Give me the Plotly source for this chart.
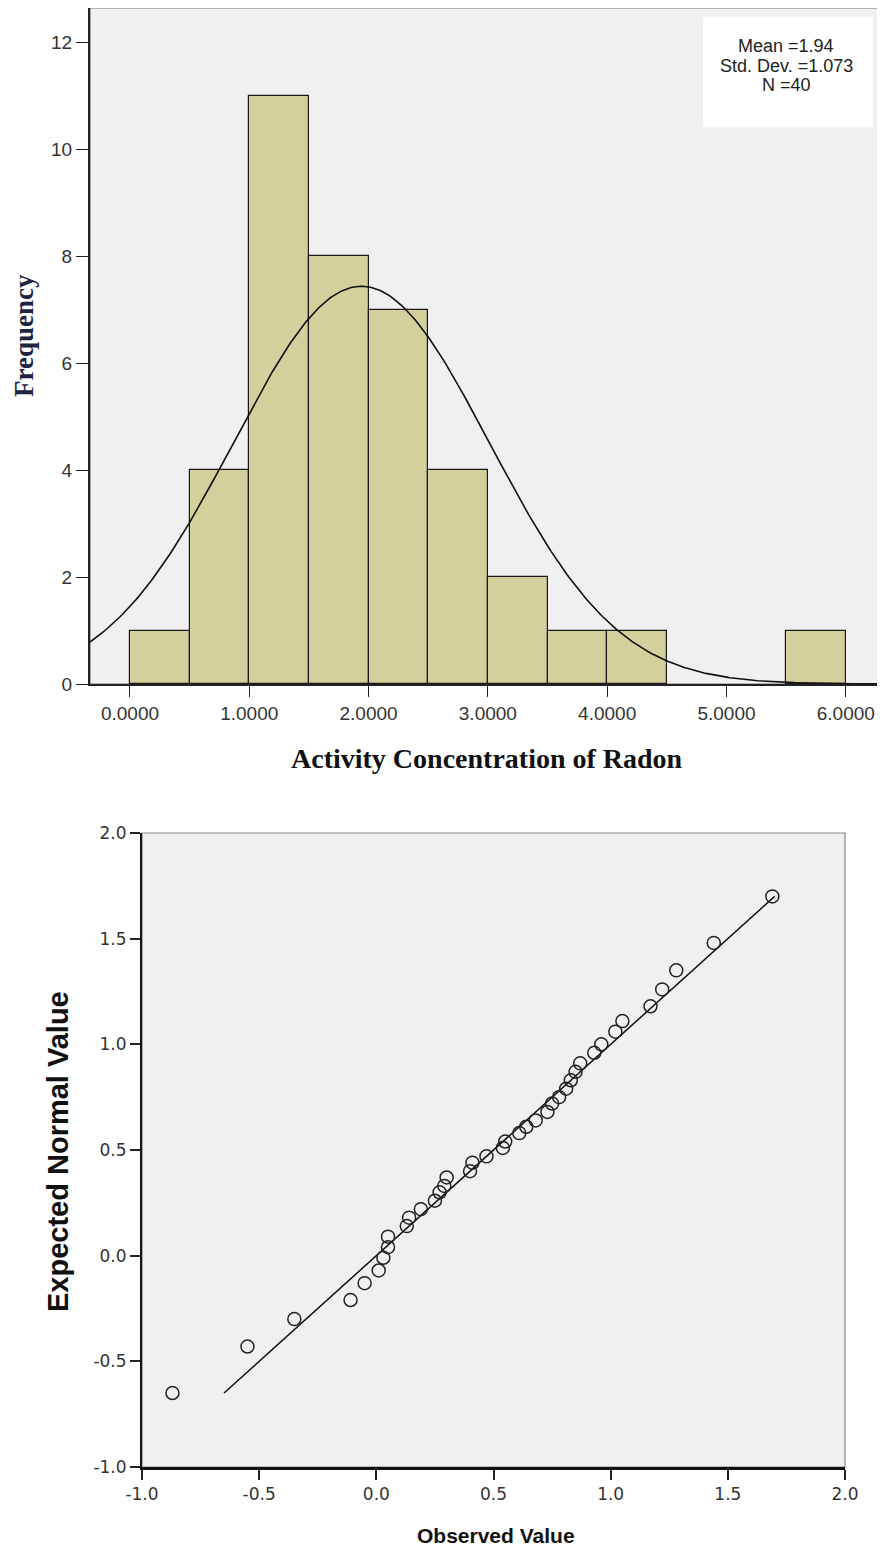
import numpy as np
import plotly.graph_objects as go

# ---------------- Histogram data ----------------
bin_left = [0.0, 0.5, 1.0, 1.5, 2.0, 2.5, 3.0, 3.5, 4.0, 5.5]
bin_counts = [1, 4, 11, 8, 7, 4, 2, 1, 1, 1]
bin_width = 0.5
hist_mean = 1.94
hist_sd = 1.073
hist_n = 40
hist_xticks = [0, 1, 2, 3, 4, 5, 6]
hist_xticklabels = ["0.0000", "1.0000", "2.0000", "3.0000", "4.0000", "5.0000", "6.0000"]
hist_yticks = [0, 2, 4, 6, 8, 10, 12]

# ---------------- Q-Q plot data ----------------
observed = [-0.87, -0.55, -0.35, -0.11, -0.05, 0.01, 0.03, 0.05, 0.05, 0.13,
            0.14, 0.19, 0.25, 0.27, 0.29, 0.30, 0.40, 0.41, 0.47, 0.54,
            0.55, 0.61, 0.64, 0.68, 0.73, 0.75, 0.78, 0.81, 0.83, 0.85,
            0.87, 0.93, 0.96, 1.02, 1.05, 1.17, 1.22, 1.28, 1.44, 1.69]
expected = [-0.65, -0.43, -0.30, -0.21, -0.13, -0.07, -0.01, 0.04, 0.09, 0.14,
            0.18, 0.22, 0.26, 0.30, 0.33, 0.37, 0.40, 0.44, 0.47, 0.51,
            0.54, 0.58, 0.61, 0.64, 0.68, 0.72, 0.75, 0.79, 0.83, 0.87,
            0.91, 0.96, 1.00, 1.06, 1.11, 1.18, 1.26, 1.35, 1.48, 1.70]
qq_ticks = [-1.0, -0.5, 0.0, 0.5, 1.0, 1.5, 2.0]
qq_ticklabels = ["-1.0", "-0.5", "0.0", "0.5", "1.0", "1.5", "2.0"]

# page body has an 8px margin
OFF = 8
W, H = 885 - OFF, 1557 - OFF
def px(xp): return (xp - OFF) / W
def py(yp): return 1 - (yp - OFF) / H

fig = go.Figure()

# Histogram bars
centers = [b + bin_width / 2 for b in bin_left]
fig.add_trace(go.Bar(x=centers, y=bin_counts, width=bin_width,
                     marker=dict(color="#D4D09C", line=dict(color="#1a1a1a", width=1.2)),
                     xaxis="x", yaxis="y", showlegend=False, hoverinfo="x+y"))

# Normal curve
x0r, x1r = -0.335, 6.312
xc = np.linspace(x0r, x1r, 400)
yc = hist_n * bin_width / (hist_sd * np.sqrt(2 * np.pi)) * np.exp(-0.5 * ((xc - hist_mean) / hist_sd) ** 2)
fig.add_trace(go.Scatter(x=xc, y=yc, mode="lines", line=dict(color="#111", width=1.6),
                         xaxis="x", yaxis="y", showlegend=False, hoverinfo="skip"))

# Q-Q reference line
lo, hi = min(expected), max(expected)
fig.add_trace(go.Scatter(x=[lo, hi], y=[lo, hi], mode="lines",
                         line=dict(color="#111", width=1.5),
                         xaxis="x2", yaxis="y2", showlegend=False, hoverinfo="skip"))
# Q-Q points
fig.add_trace(go.Scatter(x=observed, y=expected, mode="markers",
                         marker=dict(symbol="circle-open", size=13, color="#222",
                                     line=dict(width=1.5, color="#222")),
                         xaxis="x2", yaxis="y2", showlegend=False))

tickfont_top = dict(family="Liberation Sans, Arial, sans-serif", size=19, color="#333")
tickfont_bot = dict(family="DejaVu Sans, Arial, sans-serif", size=17, color="#333")

fig.update_layout(
    width=W, height=H,
    margin=dict(l=0, r=0, t=0, b=0, autoexpand=False),
    paper_bgcolor="white",
    plot_bgcolor="#F0F0F0",
    bargap=0,
    xaxis=dict(domain=[px(90), px(883)], range=[x0r, x1r], anchor="y",
               tickvals=hist_xticks, ticktext=hist_xticklabels, automargin=False,
               ticks="outside", ticklen=11, tickwidth=1.3, tickcolor="#222",
               showline=True, linecolor="#222", linewidth=2, showgrid=False,
               zeroline=False, tickfont=tickfont_top),
    yaxis=dict(domain=[py(684), py(8)], range=[0, 12.64], anchor="x", automargin=False,
               tickvals=hist_yticks, ticks="outside", ticklen=12, tickwidth=1.3,
               tickcolor="#222", showline=True, linecolor="#222", linewidth=2,
               showgrid=False, zeroline=False, tickfont=tickfont_top),
    xaxis2=dict(domain=[px(142), px(845)], range=[-1.0, 2.0], anchor="y2", automargin=False,
                tickvals=qq_ticks, ticktext=qq_ticklabels,
                ticks="outside", ticklen=10, tickwidth=1.5, tickcolor="#222",
                showline=True, linecolor="#111", linewidth=3, showgrid=False,
                zeroline=False, tickfont=tickfont_bot),
    yaxis2=dict(domain=[py(1467), py(833)], range=[-1.0, 2.0], anchor="x2", automargin=False,
                tickvals=qq_ticks, ticktext=qq_ticklabels,
                ticks="outside", ticklen=10, tickwidth=1.5, tickcolor="#222",
                showline=True, linecolor="#111", linewidth=2, showgrid=False,
                zeroline=False, tickfont=tickfont_bot),
)

# Frames (top / right borders)
fig.add_shape(type="rect", xref="x domain", yref="y domain", x0=0, x1=1, y0=0, y1=1,
              line=dict(color="#777", width=1.2), layer="below")
fig.add_shape(type="rect", xref="x2 domain", yref="y2 domain", x0=0, x1=1, y0=0, y1=1,
              line=dict(color="#888", width=1.2), layer="below")

# Stats box
fig.add_shape(type="rect", xref="paper", yref="paper",
              x0=px(703), x1=px(873), y0=py(127), y1=py(17),
              fillcolor="white", line=dict(width=0), layer="above")
stats_lines = [f"Mean ={hist_mean:.2f}", f"Std. Dev. ={hist_sd:.3f}", f"N ={hist_n}"]
for i, t in enumerate(stats_lines):
    fig.add_annotation(xref="paper", yref="paper", x=px(786), y=py(46 + 19.5 * i),
                       text=t, showarrow=False, xanchor="center", yanchor="middle",
                       font=dict(family="Liberation Sans, Arial, sans-serif", size=18, color="#222"))

# Axis titles
fig.add_annotation(xref="paper", yref="paper", x=px(24), y=py(336),
                   text="<b>Frequency</b>", textangle=-90, showarrow=False,
                   xanchor="center", yanchor="middle",
                   font=dict(family="Liberation Serif, Times New Roman, serif", size=27, color="#1c2541"))
fig.add_annotation(xref="paper", yref="paper", x=px(487), y=py(758),
                   text="<b>Activity Concentration of Radon</b>", showarrow=False,
                   xanchor="center", yanchor="middle",
                   font=dict(family="Liberation Serif, Times New Roman, serif", size=28, color="#111"))
fig.add_annotation(xref="paper", yref="paper", x=px(58), y=py(1152),
                   text="<b>Expected Normal Value</b>", textangle=-90, showarrow=False,
                   xanchor="center", yanchor="middle",
                   font=dict(family="Liberation Sans, Arial, sans-serif", size=29, color="#111"))
fig.add_annotation(xref="paper", yref="paper", x=px(496), y=py(1535),
                   text="<b>Observed Value</b>", showarrow=False,
                   xanchor="center", yanchor="middle",
                   font=dict(family="Liberation Sans, Arial, sans-serif", size=21, color="#111"))

fig.write_html("out.html")
